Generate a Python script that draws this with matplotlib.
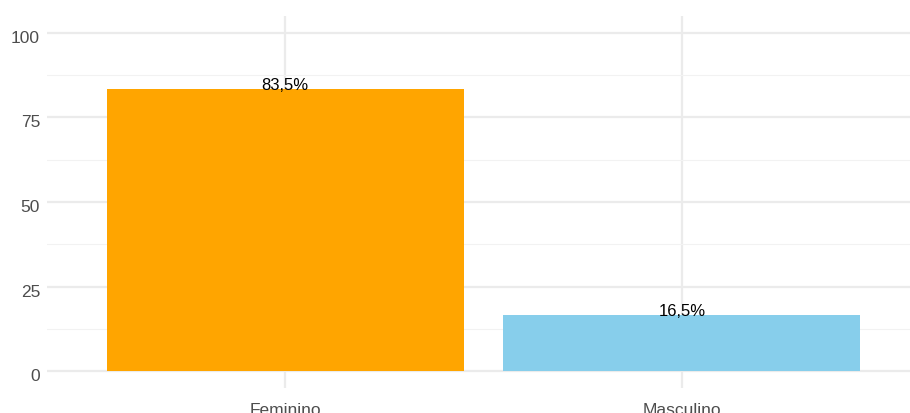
import matplotlib
matplotlib.use("Agg")
import matplotlib.pyplot as plt
from matplotlib.ticker import MultipleLocator
from matplotlib.transforms import ScaledTranslation

plt.rcParams['font.family'] = ['Liberation Sans', 'DejaVu Sans']

categories = ["Feminino", "Masculino"]
values = [83.5, 16.5]
labels = ["83,5%", "16,5%"]
colors = ["#FFA500", "#87CEEB"]
yticks = [0, 25, 50, 75, 100]

W, H = 910, 414
fig = plt.figure(figsize=(W/100, H/100), dpi=100)
left, right, top, bottom = 47, 920, 17, 389
ax = fig.add_axes([left/W, 1-bottom/H, (right-left)/W, (bottom-top)/H])

x = list(range(1, len(categories)+1))
ax.bar(x, values, width=0.9, color=colors, zorder=2)
for xi, v, lab in zip(x, values, labels):
    ax.text(xi, v, lab, ha='center', va='baseline', fontsize=12, color='black', zorder=3)

ax.set_xlim(0.4, 2.6)
ax.set_ylim(-5, 105)
ax.set_xticks(x)
ax.set_xticklabels(categories)
ax.set_yticks(yticks)
ax.yaxis.set_minor_locator(MultipleLocator(12.5))
ax.grid(True, which='major', color='#EBEBEB', linewidth=1.6, zorder=0)
ax.grid(True, which='minor', axis='y', color='#F2F2F2', linewidth=0.8, zorder=0)
ax.set_axisbelow(True)
for s in ax.spines.values():
    s.set_visible(False)
ax.tick_params(axis='both', which='both', length=0, labelsize=12.5, colors='#4D4D4D')
ax.tick_params(axis='y', pad=5)
ax.tick_params(axis='x', pad=10)

off = ScaledTranslation(0, -3/100, fig.dpi_scale_trans)
for lbl in ax.get_yticklabels():
    lbl.set_transform(lbl.get_transform() + off)

fig.savefig("out.png", dpi=100)
